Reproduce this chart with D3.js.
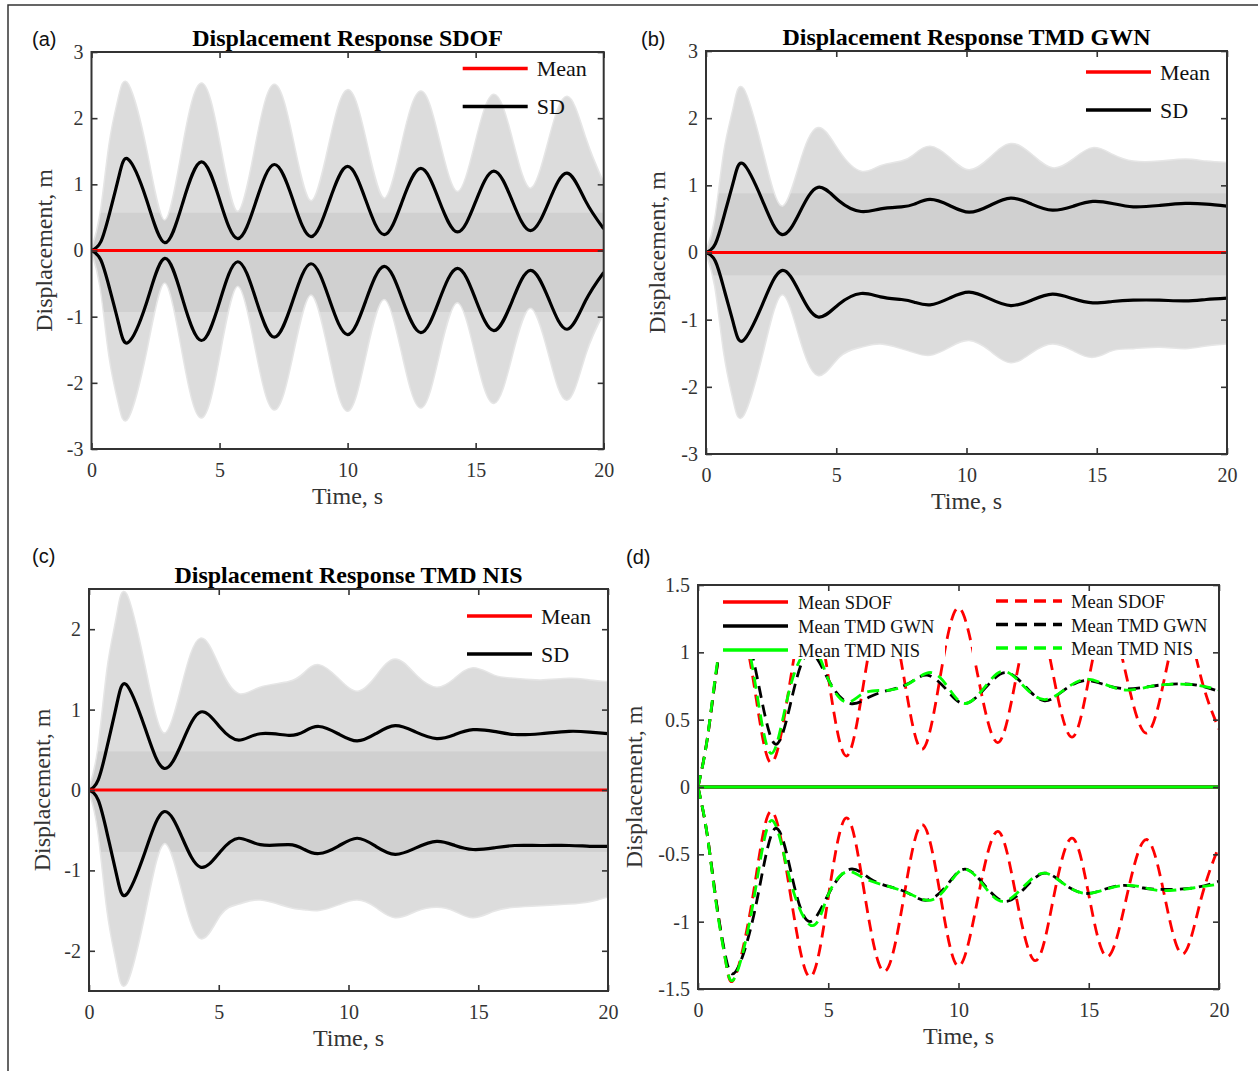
<!DOCTYPE html>
<html>
<head>
<meta charset="utf-8">
<script src="https://cdnjs.cloudflare.com/ajax/libs/d3/7.8.5/d3.min.js"></script>
<style>
  body { margin: 0; background: #fff; }
  svg { display: block; }
</style>
</head>
<body>
<svg id="chart" width="1258" height="1071"></svg>
<script>
// ---------------- DATA ----------------
const timeTicks = [0, 5, 10, 15, 20];
const yTicks3 = [-3, -2, -1, 0, 1, 2, 3];
const yTicksC = [-2, -1, 0, 1, 2];
const yTicksD = [-1.5, -1, -0.5, 0, 0.5, 1, 1.5];

const tMean = [0, 20];
const meanZero = [0, 0];

// Panel (a) SDOF
const tA = [0, 0.36, 0.71, 1.07, 1.43, 2.14, 2.86, 3.57, 4.29, 5.0, 5.71, 6.43, 7.14, 7.86, 8.57, 9.29, 10.0, 10.71, 11.43, 12.14, 12.86, 13.57, 14.29, 15.0, 15.71, 16.43, 17.14, 17.86, 18.57, 19.29, 20.0];
const sdUpperA = [0, 0.13, 0.57, 1.12, 1.38, 0.78, 0.12, 0.73, 1.34, 0.77, 0.18, 0.75, 1.30, 0.77, 0.21, 0.75, 1.27, 0.76, 0.24, 0.75, 1.24, 0.76, 0.28, 0.74, 1.20, 0.75, 0.30, 0.74, 1.17, 0.75, 0.33];
const sdLowerA = [0, -0.14, -0.58, -1.12, -1.39, -0.8, -0.12, -0.75, -1.36, -0.78, -0.17, -0.75, -1.31, -0.76, -0.2, -0.74, -1.27, -0.76, -0.24, -0.74, -1.24, -0.76, -0.27, -0.74, -1.21, -0.76, -0.3, -0.74, -1.19, -0.76, -0.33];
const envUpperA = [0, 0.55, 1.6, 2.3, 2.5, 1.5, 0.45, 1.55, 2.52, 1.6, 0.58, 1.6, 2.5, 1.65, 0.74, 1.6, 2.42, 1.65, 0.78, 1.62, 2.4, 1.65, 0.88, 1.62, 2.35, 1.65, 0.93, 1.65, 2.32, 1.68, 1.0];
const envLowerA = [0, -0.55, -1.6, -2.3, -2.52, -1.5, -0.48, -1.55, -2.52, -1.55, -0.53, -1.5, -2.4, -1.55, -0.66, -1.55, -2.42, -1.55, -0.73, -1.55, -2.37, -1.55, -0.78, -1.55, -2.3, -1.55, -0.86, -1.55, -2.25, -1.55, -0.93];
const bandA = [-0.93, 0.57];

// Panel (b) TMD GWN
const tB = [0, 0.36, 0.71, 1.07, 1.43, 2.16, 2.9, 3.6, 4.3, 5.1, 5.95, 6.7, 7.5, 8.0, 8.6, 9.35, 10.1, 10.9, 11.7, 12.5, 13.3, 14.1, 14.85, 15.6, 16.4, 17.4, 18.4, 19.2, 20];
const sdUpperB = [0, 0.13, 0.57, 1.08, 1.32, 0.78, 0.27, 0.6, 0.97, 0.77, 0.61, 0.65, 0.68, 0.72, 0.79, 0.7, 0.6, 0.7, 0.81, 0.72, 0.63, 0.69, 0.76, 0.73, 0.68, 0.7, 0.73, 0.72, 0.69];
const sdLowerB = [0, -0.13, -0.57, -1.08, -1.31, -0.78, -0.27, -0.6, -0.96, -0.77, -0.61, -0.66, -0.7, -0.74, -0.78, -0.68, -0.59, -0.69, -0.79, -0.71, -0.62, -0.69, -0.75, -0.73, -0.71, -0.71, -0.72, -0.7, -0.68];
const envUpperB = [0, 0.5, 1.5, 2.15, 2.43, 1.5, 0.68, 1.3, 1.85, 1.5, 1.2, 1.28, 1.35, 1.45, 1.57, 1.4, 1.22, 1.4, 1.61, 1.45, 1.25, 1.38, 1.55, 1.45, 1.35, 1.35, 1.38, 1.35, 1.33];
const envLowerB = [0, -0.5, -1.5, -2.2, -2.42, -1.5, -0.62, -1.25, -1.82, -1.55, -1.4, -1.35, -1.42, -1.48, -1.52, -1.4, -1.3, -1.45, -1.63, -1.48, -1.35, -1.45, -1.55, -1.45, -1.42, -1.4, -1.42, -1.38, -1.35];
const bandB = [-0.34, 0.88];

// Panel (c) TMD NIS
const tC = [0, 0.36, 0.72, 1.08, 1.44, 2.16, 2.88, 3.6, 4.3, 5.05, 5.77, 6.6, 7.7, 8.3, 8.86, 9.6, 10.33, 11.05, 11.8, 12.6, 13.4, 14.1, 14.8, 15.6, 16.4, 17.4, 18.5, 19.3, 20];
const sdUpperC = [0, 0.13, 0.57, 1.08, 1.31, 0.77, 0.27, 0.6, 0.97, 0.78, 0.62, 0.7, 0.68, 0.73, 0.79, 0.7, 0.61, 0.7, 0.8, 0.72, 0.64, 0.69, 0.75, 0.73, 0.69, 0.7, 0.73, 0.72, 0.7];
const sdLowerC = [0, -0.13, -0.57, -1.08, -1.3, -0.77, -0.27, -0.6, -0.96, -0.77, -0.6, -0.68, -0.68, -0.74, -0.79, -0.7, -0.6, -0.7, -0.8, -0.72, -0.64, -0.69, -0.74, -0.72, -0.69, -0.69, -0.69, -0.7, -0.7];
const envUpperC = [0, 0.5, 1.5, 2.15, 2.43, 1.5, 0.7, 1.3, 1.88, 1.5, 1.19, 1.27, 1.34, 1.45, 1.55, 1.38, 1.22, 1.4, 1.62, 1.42, 1.27, 1.38, 1.51, 1.42, 1.38, 1.36, 1.38, 1.36, 1.34];
const envLowerC = [0, -0.5, -1.5, -2.15, -2.4, -1.5, -0.66, -1.25, -1.84, -1.55, -1.41, -1.36, -1.45, -1.48, -1.49, -1.42, -1.36, -1.45, -1.58, -1.5, -1.45, -1.5, -1.58, -1.5, -1.45, -1.43, -1.41, -1.38, -1.32];
const bandC = [-0.77, 0.48];

// Panel (d) comparison
const tDS = [0, 0.35, 0.7, 1.05, 1.4, 2.1, 2.8, 3.55, 4.3, 5.0, 5.7, 6.4, 7.15, 7.9, 8.6, 9.3, 10.0, 10.75, 11.5, 12.2, 12.95, 13.65, 14.35, 15.0, 15.7, 16.45, 17.2, 17.9, 18.6, 19.3, 20];
const sdofUpperD = [0, 0.35, 0.85, 1.28, 1.42, 0.82, 0.18, 0.8, 1.41, 0.82, 0.23, 0.82, 1.37, 0.82, 0.28, 0.82, 1.33, 0.82, 0.33, 0.8, 1.29, 0.82, 0.37, 0.8, 1.26, 0.82, 0.4, 0.8, 1.24, 0.82, 0.43];
const sdofLowerD = [0, -0.35, -0.85, -1.28, -1.42, -0.82, -0.18, -0.8, -1.41, -0.82, -0.23, -0.8, -1.37, -0.82, -0.28, -0.8, -1.33, -0.82, -0.33, -0.8, -1.29, -0.82, -0.38, -0.8, -1.26, -0.82, -0.39, -0.8, -1.24, -0.84, -0.44];
const tDG = [0, 0.35, 0.7, 1.05, 1.45, 2.2, 2.95, 3.65, 4.3, 5.05, 5.85, 6.6, 7.35, 8.1, 8.8, 9.55, 10.25, 11.05, 11.8, 12.55, 13.3, 14.05, 14.85, 15.6, 16.35, 17.1, 17.9, 19.0, 20];
const gwnUpperD = [0, 0.35, 0.85, 1.25, 1.38, 0.88, 0.32, 0.7, 1.0, 0.78, 0.62, 0.67, 0.72, 0.77, 0.83, 0.72, 0.62, 0.74, 0.85, 0.75, 0.64, 0.72, 0.79, 0.76, 0.73, 0.74, 0.76, 0.76, 0.71];
const gwnLowerD = [0, -0.35, -0.85, -1.25, -1.37, -0.9, -0.31, -0.7, -1.0, -0.78, -0.61, -0.68, -0.74, -0.79, -0.84, -0.73, -0.61, -0.74, -0.85, -0.75, -0.64, -0.72, -0.79, -0.76, -0.73, -0.75, -0.76, -0.75, -0.7];
const tDN = [0, 0.35, 0.7, 1.05, 1.4, 2.1, 2.8, 3.55, 4.4, 5.0, 5.7, 6.4, 7.35, 8.2, 8.95, 9.6, 10.25, 11.0, 11.7, 12.45, 13.25, 14.05, 14.85, 15.65, 16.45, 17.2, 17.9, 19.0, 20];
const nisUpperD = [0, 0.35, 0.87, 1.28, 1.42, 0.88, 0.25, 0.75, 1.03, 0.8, 0.63, 0.7, 0.72, 0.78, 0.85, 0.74, 0.62, 0.74, 0.86, 0.76, 0.65, 0.72, 0.8, 0.76, 0.72, 0.74, 0.76, 0.76, 0.72];
const nisLowerD = [0, -0.35, -0.87, -1.28, -1.42, -0.88, -0.25, -0.7, -1.03, -0.8, -0.63, -0.68, -0.74, -0.8, -0.84, -0.73, -0.61, -0.74, -0.85, -0.75, -0.64, -0.72, -0.79, -0.76, -0.73, -0.75, -0.77, -0.75, -0.72];

const legendAC = ["Mean", "SD"];
const legendD = ["Mean SDOF", "Mean TMD GWN", "Mean TMD NIS"];

// ---------------- DRAWING ----------------
const SERIF = "'Liberation Serif','Times New Roman',Times,serif";
const SANS = "'Liberation Sans',Arial,Helvetica,sans-serif";
const AXC = "#333333";
const svg = d3.select("#chart");

svg.append("path").attr("d", "M8,1071 V5 H1258").attr("fill", "none").attr("stroke", "#333").attr("stroke-width", 1.5);

const zip = (t, v) => t.map((d, i) => [d, v[i]]);

function setupPanel(p) {
  const x = d3.scaleLinear().domain([0, 20]).range([p.left, p.right]);
  const y = d3.scaleLinear().domain(p.yDomain).range([p.bottom, p.top]);
  const g = svg.append("g");
  const clipId = "clip-" + p.id;
  svg.append("defs").append("clipPath").attr("id", clipId)
    .append("rect").attr("x", p.left).attr("y", p.top)
    .attr("width", p.right - p.left).attr("height", p.bottom - p.top);
  const plot = g.append("g").attr("clip-path", `url(#${clipId})`);
  return { x, y, g, plot };
}

function drawFrame(p, s) {
  const { x, y, g } = s;
  const style = sel => {
    sel.select(".domain").remove();
    sel.selectAll(".tick line").attr("stroke", AXC).attr("stroke-width", 1.6);
    sel.selectAll(".tick text").attr("fill", AXC)
      .style("font-family", SERIF).style("font-size", "20px");
  };
  const fmt = d => String(d);
  g.append("g").attr("transform", `translate(0,${p.bottom})`)
    .call(d3.axisBottom(x).tickValues(timeTicks).tickSize(-6).tickSizeOuter(0).tickPadding(14).tickFormat(fmt)).call(style);
  g.append("g").attr("transform", `translate(0,${p.top})`)
    .call(d3.axisTop(x).tickValues(timeTicks).tickSize(-6).tickSizeOuter(0).tickFormat("")).call(style);
  g.append("g").attr("transform", `translate(${p.left},0)`)
    .call(d3.axisLeft(y).tickValues(p.yTicks).tickSize(-6).tickSizeOuter(0).tickPadding(8).tickFormat(fmt)).call(style);
  g.append("g").attr("transform", `translate(${p.right},0)`)
    .call(d3.axisRight(y).tickValues(p.yTicks).tickSize(-6).tickSizeOuter(0).tickFormat("")).call(style);
  g.append("rect").attr("x", p.left).attr("y", p.top)
    .attr("width", p.right - p.left).attr("height", p.bottom - p.top)
    .attr("fill", "none").attr("stroke", AXC).attr("stroke-width", 2);

  // labels
  g.append("text").attr("x", (p.left + p.right) / 2).attr("y", p.bottom + 55)
    .attr("text-anchor", "middle").attr("fill", AXC)
    .style("font-family", SERIF).style("font-size", "24px").text("Time, s");
  g.append("text").attr("transform", `translate(${p.ylabX},${(p.top + p.bottom) / 2}) rotate(-90)`)
    .attr("text-anchor", "middle").attr("fill", AXC)
    .style("font-family", SERIF).style("font-size", "24px").text("Displacement, m");
  if (p.title) {
    g.append("text").attr("x", (p.left + p.right) / 2).attr("y", p.top - 6)
      .attr("text-anchor", "middle").attr("fill", "#000").attr("font-weight", "bold")
      .style("font-family", SERIF).style("font-size", "24px").text(p.title);
  }
  g.append("text").attr("x", p.tagX).attr("y", p.tagY).attr("fill", "#111")
    .style("font-family", SANS).style("font-size", "20px").text(p.tag);
}

function drawEnsemblePanel(p) {
  const s = setupPanel(p);
  const { x, y, g, plot } = s;
  const area = d3.area().x(d => x(d[0])).y0(d => y(d[1])).y1(d => y(d[2])).curve(d3.curveNatural);
  const envData = p.t.map((d, i) => [d, p.envLo[i], p.envHi[i]]);
  const envClip = "env-" + p.id;
  svg.append("defs").append("clipPath").attr("id", envClip)
    .append("path").attr("d", area(envData));
  plot.append("path").attr("d", area(envData))
    .attr("fill", "#dcdcdc").attr("stroke", "#e6e6e6").attr("stroke-width", 3)
    .style("paint-order", "stroke");
  plot.append("rect").attr("clip-path", `url(#${envClip})`)
    .attr("x", x(0)).attr("width", x(20) - x(0))
    .attr("y", y(p.band[1])).attr("height", y(p.band[0]) - y(p.band[1]))
    .attr("fill", "#d0d0d0");
  const line = d3.line().x(d => x(d[0])).y(d => y(d[1])).curve(d3.curveNatural);
  plot.append("path").attr("d", line(zip(p.t, p.sdHi))).attr("fill", "none").attr("stroke", "#000").attr("stroke-width", 3.2);
  plot.append("path").attr("d", line(zip(p.t, p.sdLo))).attr("fill", "none").attr("stroke", "#000").attr("stroke-width", 3.2);
  plot.append("path").attr("d", d3.line().x(d => x(d[0])).y(d => y(d[1]))(zip(tMean, meanZero)))
    .attr("fill", "none").attr("stroke", "#ff0000").attr("stroke-width", 3);
  drawFrame(p, s);

  // legend
  const lx0 = p.right - 141, lx1 = p.right - 76;
  const colors = ["#ff0000", "#000000"];
  legendAC.forEach((lab, i) => {
    const ly = p.legY + i * 38;
    g.append("line").attr("x1", lx0).attr("x2", lx1).attr("y1", ly).attr("y2", ly)
      .attr("stroke", colors[i]).attr("stroke-width", 3.5);
    g.append("text").attr("x", p.right - 67).attr("y", ly + 7.5).attr("fill", "#111")
      .style("font-family", SERIF).style("font-size", "22px").text(lab);
  });
}

drawEnsemblePanel({ id: "a", left: 91.5, right: 603.7, top: 52, bottom: 449, yDomain: [-3, 3], yTicks: yTicks3,
  title: "Displacement Response SDOF", tag: "(a)", tagX: 32, tagY: 46, ylabX: 52, legY: 68.5,
  t: tA, sdHi: sdUpperA, sdLo: sdLowerA, envHi: envUpperA, envLo: envLowerA, band: bandA });
drawEnsemblePanel({ id: "b", left: 706, right: 1227, top: 51, bottom: 454, yDomain: [-3, 3], yTicks: yTicks3,
  title: "Displacement Response TMD GWN", tag: "(b)", tagX: 641, tagY: 46, ylabX: 665, legY: 72,
  t: tB, sdHi: sdUpperB, sdLo: sdLowerB, envHi: envUpperB, envLo: envLowerB, band: bandB });
drawEnsemblePanel({ id: "c", left: 89, right: 608, top: 589, bottom: 991, yDomain: [-2.5, 2.5], yTicks: yTicksC,
  title: "Displacement Response TMD NIS", tag: "(c)", tagX: 32, tagY: 563, ylabX: 50, legY: 616,
  t: tC, sdHi: sdUpperC, sdLo: sdLowerC, envHi: envUpperC, envLo: envLowerC, band: bandC });

// Panel (d)
(function () {
  const p = { id: "d", left: 698, right: 1219, top: 585, bottom: 989, yDomain: [-1.5, 1.5], yTicks: yTicksD,
    title: null, tag: "(d)", tagX: 626, tagY: 564, ylabX: 642 };
  const s = setupPanel(p);
  const { x, y, g, plot } = s;
  const line = d3.line().x(d => x(d[0])).y(d => y(d[1])).curve(d3.curveNatural);
  const dash = "12,7";
  const series = [
    { t: tDS, v: sdofUpperD, c: "#ff0000" }, { t: tDS, v: sdofLowerD, c: "#ff0000" },
    { t: tDG, v: gwnUpperD, c: "#000000" }, { t: tDG, v: gwnLowerD, c: "#000000" },
    { t: tDN, v: nisUpperD, c: "#00ff00" }, { t: tDN, v: nisLowerD, c: "#00ff00" }
  ];
  series.forEach(sr => {
    plot.append("path").attr("d", line(zip(sr.t, sr.v))).attr("fill", "none")
      .attr("stroke", sr.c).attr("stroke-width", 2.8).attr("stroke-dasharray", dash);
  });
  ["#ff0000", "#000000", "#00ff00"].forEach(c => {
    plot.append("path").attr("d", d3.line().x(d => x(d[0])).y(d => y(d[1]))(zip(tMean, meanZero)))
      .attr("fill", "none").attr("stroke", c).attr("stroke-width", 3);
  });
  // legend boxes (white background)
  plot.append("rect").attr("x", 699).attr("y", 586).attr("width", 246).attr("height", 73).attr("fill", "#fff");
  plot.append("rect").attr("x", 972).attr("y", 586).attr("width", 246).attr("height", 73).attr("fill", "#fff");
  const cols = ["#ff0000", "#000000", "#00ff00"];
  const leftY = [602, 626, 650], rightY = [601, 624.5, 648];
  legendD.forEach((lab, i) => {
    g.append("line").attr("x1", 723).attr("x2", 788).attr("y1", leftY[i]).attr("y2", leftY[i])
      .attr("stroke", cols[i]).attr("stroke-width", 3.5);
    g.append("text").attr("x", 798).attr("y", leftY[i] + 7).attr("fill", "#111")
      .style("font-family", SERIF).style("font-size", "18.5px").text(lab);
    g.append("line").attr("x1", 996).attr("x2", 1062).attr("y1", rightY[i]).attr("y2", rightY[i])
      .attr("stroke", cols[i]).attr("stroke-width", 3.5).attr("stroke-dasharray", dash);
    g.append("text").attr("x", 1071).attr("y", rightY[i] + 7).attr("fill", "#111")
      .style("font-family", SERIF).style("font-size", "18.5px").text(lab);
  });
  drawFrame(p, s);
})();
</script>
</body>
</html>
